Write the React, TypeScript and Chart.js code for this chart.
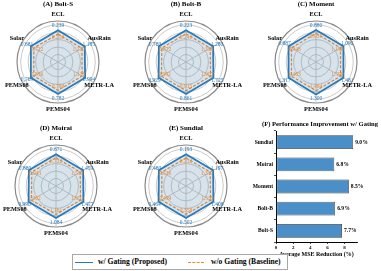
import React, { useEffect, useRef } from 'react';
import { Chart, registerables } from 'chart.js';
Chart.register(...registerables);

const FONT = '"Liberation Serif", "Times New Roman", serif';
const BLUE = '#2a7ab9';
const ORANGE = '#f08a2a';
const BAR_FILL = '#4b8fc8';

// radar axes (clockwise from top)
const axes = ['ECL', 'AusRain', 'METR-LA', 'PEMS04', 'PEMS08', 'Solar'];

// value labels (MSE) : w/ gating, w/o gating
const boltSGated = [0.239, 1.185, 0.994, 0.782, 0.769, 0.681];
const boltSBase = [0.25, 1.27, 1.136, 0.799, 0.836, 0.722];
const boltBGated = [0.223, 1.28, 1.725, 0.861, 0.929, 0.78];
const boltBBase = [0.241, 1.358, 1.907, 0.915, 0.992, 0.872];
const momentGated = [0.88, 1.092, 1.481, 1.3, 1.317, 0.887];
const momentBase = [0.937, 1.19, 1.59, 1.464, 1.463, 0.948];
const moiraiGated = [0.671, 1.459, 1.477, 1.084, 0.99, 0.88];
const moiraiBase = [0.722, 1.53, 1.651, 1.161, 1.062, 0.943];
const sundialGated = [0.193, 1.197, 1.408, 0.502, 0.464, 0.48];
const sundialBase = [0.212, 1.317, 1.535, 0.558, 0.499, 0.536];

// plotted (normalised) radii
const boltSGatedR = [0.85, 0.83, 0.84, 0.86, 0.84, 0.84];
const boltSBaseR = [0.75, 0.74, 0.75, 0.76, 0.75, 0.75];
const boltBGatedR = [0.85, 0.84, 0.85, 0.86, 0.85, 0.84];
const boltBBaseR = [0.76, 0.75, 0.76, 0.77, 0.76, 0.75];
const momentGatedR = [0.86, 0.85, 0.85, 0.87, 0.85, 0.85];
const momentBaseR = [0.77, 0.76, 0.76, 0.77, 0.76, 0.76];
const moiraiGatedR = [0.85, 0.84, 0.85, 0.86, 0.85, 0.84];
const moiraiBaseR = [0.76, 0.75, 0.76, 0.76, 0.76, 0.75];
const sundialGatedR = [0.85, 0.84, 0.85, 0.86, 0.85, 0.84];
const sundialBaseR = [0.75, 0.75, 0.76, 0.76, 0.75, 0.75];

const radarTicks = [0, 0.2, 0.4, 0.6, 0.8, 1.0, 1.1];

// panel F
const models = ['Bolt-S', 'Bolt-B', 'Moment', 'Moirai', 'Sundial'];
const improvements = [7.7, 6.9, 8.5, 6.8, 9.0];
const barTicks = [0, 2, 4, 6, 8];

const panels = [
  { title: '(A) Bolt-S', cx: 58, cy: 62, gated: boltSGated, base: boltSBase, gatedR: boltSGatedR, baseR: boltSBaseR },
  { title: '(B) Bolt-B', cx: 186, cy: 62, gated: boltBGated, base: boltBBase, gatedR: boltBGatedR, baseR: boltBBaseR },
  { title: '(C) Moment', cx: 316, cy: 62, gated: momentGated, base: momentBase, gatedR: momentGatedR, baseR: momentBaseR },
  { title: '(D) Moirai', cx: 56, cy: 186, gated: moiraiGated, base: moiraiBase, gatedR: moiraiGatedR, baseR: moiraiBaseR },
  { title: '(E) Sundial', cx: 186, cy: 186, gated: sundialGated, base: sundialBase, gatedR: sundialGatedR, baseR: sundialBaseR },
];

const CW = 130;
const CH = 124;
const R = 41;

function Radar({ p }: { p: any }) {
  const ref = useRef<HTMLCanvasElement>(null);
  useEffect(() => {
    const labelPlugin = {
      id: 'radarLabels',
      afterDraw(chart: any) {
        const ctx = chart.ctx;
        const s = chart.scales.r;
        ctx.save();
        ctx.textAlign = 'center';
        ctx.textBaseline = 'middle';
        ctx.fillStyle = '#000';
        ctx.font = `bold 7px ${FONT}`;
        ctx.fillText(p.title, s.xCenter, s.yCenter - 57.5);
        ctx.font = `bold 6.3px ${FONT}`;
        axes.forEach((lab, i) => {
          const pt = s.getPointPosition(i, s.drawingArea + 6.5);
          ctx.fillText(lab, pt.x, pt.y);
        });
        ctx.font = `5.5px ${FONT}`;
        ctx.fillStyle = BLUE;
        p.gated.forEach((v: number, i: number) => {
          const pt = s.getPointPosition(i, s.getDistanceFromCenterForValue(p.gatedR[i]) + 4.5);
          ctx.fillText(v.toFixed(3), pt.x, pt.y);
        });
        ctx.fillStyle = ORANGE;
        p.base.forEach((v: number, i: number) => {
          const pt = s.getPointPosition(i, s.getDistanceFromCenterForValue(p.baseR[i]) - 3.7);
          ctx.fillText(v.toFixed(3), pt.x, pt.y);
        });
        ctx.restore();
      },
    };
    const chart = new Chart(ref.current as HTMLCanvasElement, {
      type: 'radar',
      data: {
        labels: axes,
        datasets: [
          {
            data: p.gatedR,
            borderColor: BLUE,
            backgroundColor: 'rgba(60,130,190,0.2)',
            borderWidth: 1.8,
            fill: true,
            pointRadius: 0,
          },
          {
            data: p.baseR,
            borderColor: ORANGE,
            backgroundColor: 'rgba(242,142,43,0.04)',
            borderWidth: 1.2,
            borderDash: [3, 1.6],
            fill: true,
            pointRadius: 0,
          },
        ],
      },
      options: {
        animation: false,
        responsive: false,
        layout: { padding: { left: CW / 2 - R, right: CW / 2 - R, top: CH / 2 - R, bottom: CH / 2 - R } },
        plugins: { legend: { display: false }, title: { display: false }, tooltip: { enabled: false } },
        scales: {
          r: {
            min: 0,
            max: 1.1,
            afterBuildTicks: (s: any) => {
              s.ticks = radarTicks.map((v) => ({ value: v }));
            },
            ticks: { display: false },
            pointLabels: { display: false },
            grid: {
              circular: true,
              color: (c: any) => (c.tick && c.tick.value > 1.05 ? '#8a8a8a' : '#bdbdbd'),
              lineWidth: (c: any) => (c.tick && c.tick.value > 1.05 ? 1.2 : 0.8),
            },
            angleLines: { color: '#bdbdbd', lineWidth: 0.8 },
          },
        },
      } as any,
      plugins: [labelPlugin],
    });
    return () => chart.destroy();
  }, []);
  return (
    <canvas
      ref={ref}
      width={CW}
      height={CH}
      style={{ position: 'absolute', left: p.cx - CW / 2, top: p.cy - CH / 2, width: CW, height: CH }}
    />
  );
}

function Bars() {
  const ref = useRef<HTMLCanvasElement>(null);
  useEffect(() => {
    const barPlugin = {
      id: 'barLabels',
      afterDraw(chart: any) {
        const ctx = chart.ctx;
        ctx.save();
        ctx.fillStyle = '#000';
        ctx.textAlign = 'center';
        ctx.textBaseline = 'middle';
        ctx.font = `bold 6.6px ${FONT}`;
        ctx.fillText('(F) Performance Improvement w/ Gating', 70, 9);
        ctx.textAlign = 'left';
        ctx.font = `bold 5.6px ${FONT}`;
        const meta = chart.getDatasetMeta(0);
        meta.data.forEach((el: any, i: number) => {
          ctx.fillText(improvements[i].toFixed(1) + '%', el.x + 2, el.y);
        });
        ctx.restore();
      },
    };
    const chart = new Chart(ref.current as HTMLCanvasElement, {
      type: 'bar',
      data: {
        labels: models,
        datasets: [
          {
            data: improvements,
            backgroundColor: BAR_FILL,
            borderColor: '#3a3a3a',
            borderWidth: 0.8,
            borderSkipped: false,
            barPercentage: 0.62,
            categoryPercentage: 1,
          },
        ],
      },
      options: {
        indexAxis: 'y',
        animation: false,
        responsive: false,
        layout: { padding: { top: 16, right: 24, bottom: 7, left: 0 } },
        plugins: { legend: { display: false }, tooltip: { enabled: false } },
        scales: {
          x: {
            min: 0,
            max: 9.45,
            afterBuildTicks: (s: any) => {
              s.ticks = barTicks.map((v) => ({ value: v }));
            },
            grid: { drawOnChartArea: false, color: '#000', tickLength: 2, lineWidth: 0.7 },
            border: { color: '#000', width: 1 },
            ticks: { font: { family: FONT, size: 5, weight: 'bold' }, color: '#000', padding: 0.5, maxRotation: 0 },
            title: {
              display: true,
              text: 'Average MSE Reduction (%)',
              font: { family: FONT, size: 6, weight: 'bold' },
              color: '#000',
              padding: 0,
            },
            afterFit: (s: any) => {
              s.height = 16;
            },
          },
          y: {
            reverse: true,
            grid: { drawOnChartArea: false, color: '#000', tickLength: 2, lineWidth: 0.7 },
            border: { color: '#000', width: 1 },
            ticks: { font: { family: FONT, size: 5.6, weight: 'bold' }, color: '#000', padding: 1 },
            afterFit: (s: any) => {
              s.width = 26;
            },
          },
        },
      } as any,
      plugins: [barPlugin],
    });
    return () => chart.destroy();
  }, []);
  return (
    <canvas
      ref={ref}
      width={131}
      height={150}
      style={{ position: 'absolute', left: 250, top: 115, width: 131, height: 150 }}
    />
  );
}

function Legend() {
  const text: React.CSSProperties = {
    position: 'absolute',
    top: 0,
    lineHeight: '14px',
    whiteSpace: 'nowrap',
  };
  return (
    <div
      style={{
        position: 'absolute',
        left: 72,
        top: 254,
        width: 216,
        height: 16,
        boxSizing: 'border-box',
        border: '1px solid #a8a8a8',
        background: '#fff',
        fontFamily: FONT,
        fontWeight: 'bold',
        fontSize: 7.6,
        color: '#000',
      }}
    >
      <div style={{ position: 'absolute', left: 2, top: 6.5, width: 18, height: 0, borderTop: `1.5px solid ${BLUE}` }} />
      <span style={{ ...text, left: 25 }}>w/ Gating (Proposed)</span>
      <div style={{ position: 'absolute', left: 115, top: 7, width: 16, height: 0, borderTop: `1px dashed ${ORANGE}` }} />
      <span style={{ ...text, left: 138 }}>w/o Gating (Baseline)</span>
    </div>
  );
}

export default function App() {
  return (
    <div style={{ position: 'fixed', left: 0, top: 0, width: 381, height: 271, background: '#fff', overflow: 'hidden' }}>
      {panels.map((p) => (
        <Radar key={p.title} p={p} />
      ))}
      <Bars />
      <Legend />
    </div>
  );
}
